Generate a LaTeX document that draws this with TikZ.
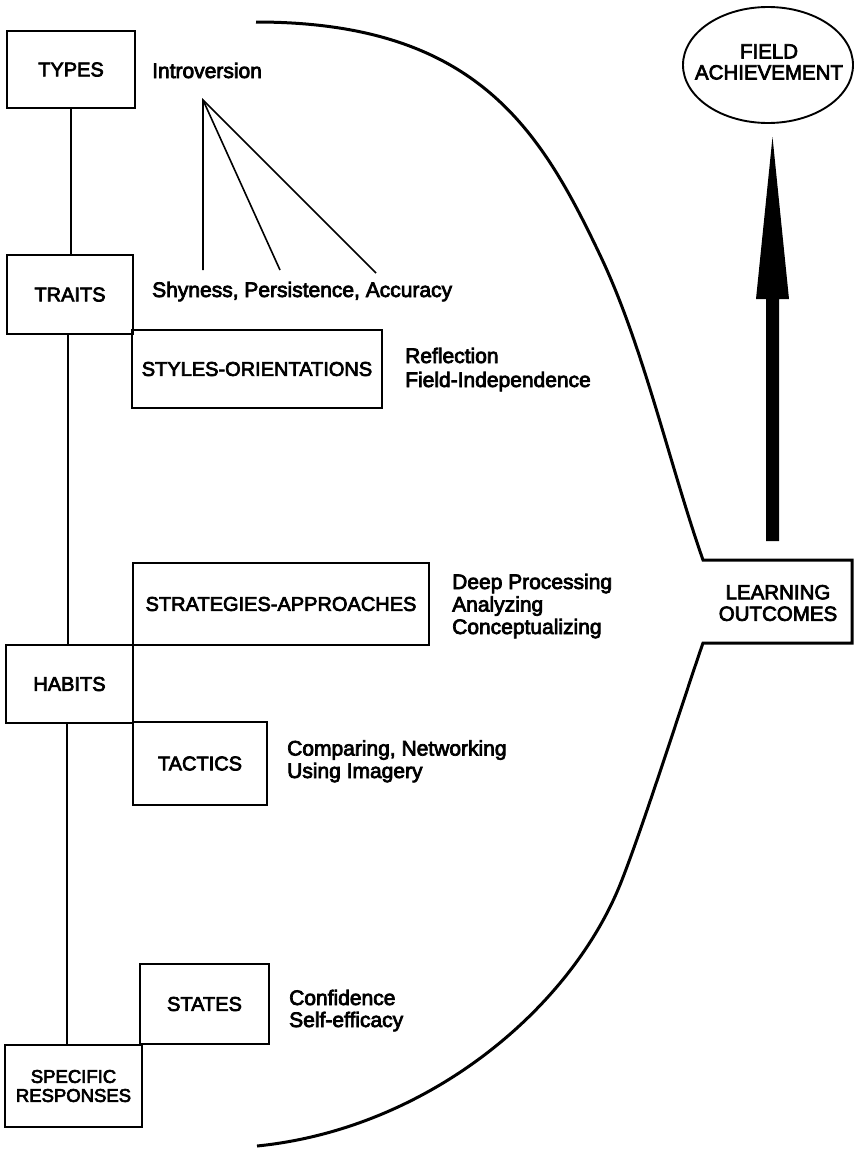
\documentclass[tikz,border=0pt]{standalone}
\usepackage{fontspec}
\setmainfont{Liberation Sans}[UprightFeatures={FakeBold=3.5}]
\begin{document}
\begin{tikzpicture}[x=1pt,y=-1pt,
  box/.style={draw, line width=1.9pt, inner sep=0pt, align=center,
    font=\fontsize{20}{20}\selectfont},
  note/.style={anchor=base west, inner sep=0pt, font=\fontsize{21}{23}\selectfont},
  link/.style={line width=1.9pt},
  fan/.style={line width=1.6pt},
  rim/.style={line width=3pt, line join=miter}]
\useasboundingbox (0,0) rectangle (855,1154);

% hierarchy boxes on the left
\node[box, minimum width=128pt, minimum height=77pt] (types) at (71,69.5) {TYPES};
\node[box, minimum width=126pt, minimum height=79pt] (traits) at (70,294.5) {TRAITS};
\node[box, minimum width=250pt, minimum height=78pt] (styles) at (257,369) {STYLES-ORIENTATIONS};
\node[box, minimum width=296pt, minimum height=82pt] (strategies) at (281,604) {STRATEGIES-APPROACHES};
\node[box, minimum width=127pt, minimum height=78pt] (habits) at (69.5,684) {HABITS};
\node[box, minimum width=134pt, minimum height=83pt] (tactics) at (200,763.5) {TACTICS};
\node[box, minimum width=129pt, minimum height=80pt] (states) at (204.5,1004) {STATES};
\node[box, minimum width=137pt, minimum height=82pt,
      font=\fontsize{18.5}{19}\selectfont] (specific) at (73.5,1086) {SPECIFIC\\RESPONSES};

% vertical spine
\draw[link] (types.south) -- (types.south |- traits.north);
\draw[link] ([xshift=-2pt]traits.south) -- ([xshift=-2pt]traits.south |- habits.north);
\draw[link] ([xshift=-2.5pt]habits.south) -- ([xshift=-2.5pt]habits.south |- specific.north);

% examples
\node[note] (intro) at (152,78) {Introversion};
\node[note] (shy) at (152,297) {Shyness, Persistence, Accuracy};
\node[note] (refl) at (405,363) {Reflection};
\node[note] (fieldind) at (405,387) {Field-Independence};
\node[note] (deep) at (452,589) {Deep Processing};
\node[note] (anal) at (452,611.5) {Analyzing};
\node[note] (concept) at (452,634) {Conceptualizing};
\node[note] (comp) at (287,755.5) {Comparing, Networking};
\node[note] (imag) at (287,778) {Using Imagery};
\node[note] (conf) at (289,1005) {Confidence};
\node[note] (selfeff) at (289,1027) {Self-efficacy};

% fan from introversion to the traits
\coordinate (apex) at (203,100);
\coordinate (f1) at (203,270);
\coordinate (f2) at (280,270);
\coordinate (f3) at (376,273);
\draw[fan] (f1) -- (apex) -- (f3);
\draw[fan] (apex) -- (f2);

% outcome bracket
\draw[rim] (256,22) .. controls (476,22) and (540,129) .. (600,255)
  .. controls (643,345) and (670,466) .. (703,560)
  -- (852,560) -- (852,643) -- (703,643)
  .. controls (686.5,690) and (637,846) .. (617,892)
  .. controls (563,1016) and (422,1129.5) .. (257,1146);
\node[align=center, inner sep=0pt, font=\fontsize{20.5}{21.5}\selectfont] (outcomes)
  at (778,603) {LEARNING\\OUTCOMES};

% field achievement
\node[align=center, inner sep=0pt, font=\fontsize{20.5}{21}\selectfont] (field)
  at (769,62) {FIELD\\ACHIEVEMENT};
\draw[line width=1.9pt] (768,65) ellipse [x radius=85, y radius=58];

% thick arrow
\fill (766,541) -- (766,299) -- (756,299) -- (772.5,137) -- (789,299)
  -- (779,299) -- (779,541) -- cycle;
\end{tikzpicture}
\end{document}
